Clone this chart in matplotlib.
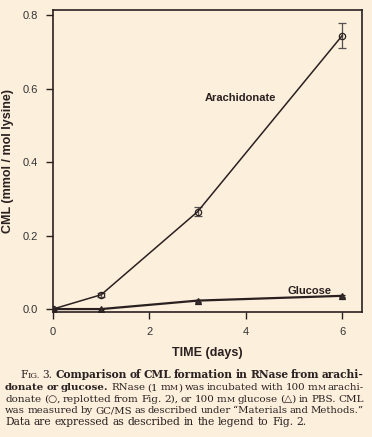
"""Fig. 3: CML formation in RNase from arachidonate or glucose."""

import matplotlib
matplotlib.use("Agg")
import matplotlib.pyplot as plt

# Data
days = [0, 1, 3, 6]
arachidonate = [0.0, 0.039, 0.265, 0.744]
arachidonate_err = [0.003, 0.005, 0.012, 0.033]
glucose = [0.0, 0.0, 0.023, 0.036]
glucose_err = [0.0, 0.0, 0.003, 0.003]

x_ticks = [0, 2, 4, 6]
y_ticks = [0.0, 0.2, 0.4, 0.6, 0.8]

BG = "#fcefdc"
INK = "#2a2020"

plt.rcParams["font.family"] = ["Liberation Sans", "DejaVu Sans"]

W, H = 372, 437
fig = plt.figure(figsize=(W / 100, H / 100), dpi=100, facecolor=BG)
ax = fig.add_axes([53 / W, 1 - 312 / H, 309 / W, 302 / H], facecolor=BG)

ax.errorbar(days, arachidonate, yerr=arachidonate_err, color=INK, lw=1.1,
            marker="o", ms=4.5, mfc="none", mec=INK, mew=0.9,
            ecolor="#555050", elinewidth=0.9, capsize=3, capthick=0.9)
ax.errorbar(days, glucose, yerr=glucose_err, color=INK, lw=1.6,
            marker="^", ms=4, mfc="#3a3030", mec=INK, mew=0.9,
            ecolor=INK, elinewidth=0.8, capsize=2)

ax.text(3.88, 0.573, "Arachidonate", fontsize=8, fontweight="bold",
        color=INK, ha="center", va="center")
ax.text(5.33, 0.049, "Glucose", fontsize=8, fontweight="bold",
        color=INK, ha="center", va="center")

ax.set_xlim(0, 6.41)
ax.set_ylim(-0.008, 0.8136)
ax.set_xticks(x_ticks)
ax.set_yticks(y_ticks)
ax.set_xticklabels([str(v) for v in x_ticks])
ax.set_yticklabels([f"{v:.1f}" for v in y_ticks])
ax.tick_params(direction="out", length=5, width=1, color=INK,
               labelsize=8, labelcolor="#333333", pad=6)
for s in ax.spines.values():
    s.set_color(INK)
    s.set_linewidth(1.2)

ax.set_xlabel("TIME (days)", fontsize=9, fontweight="bold", color=INK)
ax.set_ylabel("CML (mmol / mol lysine)", fontsize=9, fontweight="bold", color=INK)
ax.xaxis.set_label_coords(0.5, -(353 - 312) / 302)
ax.yaxis.set_label_coords(-(53 - 8) / 309, 0.5)
ax.xaxis.label.set_va("center")
ax.yaxis.label.set_va("center")

# Caption, set word by word so lines can be justified
CAP = 7.7
SMALL_RATIO = 0.77
MIN_GAP = 2.6
caption_lines = [
    [[("F", "n"), ("IG.", "s")], [("3.", "n")], [("Comparison", "b")], [("of", "b")],
     [("CML", "b")], [("formation", "b")], [("in", "b")], [("RNase", "b")],
     [("from", "b")], [("arachi-", "b")]],
    [[("donate", "b")], [("or", "b")], [("glucose.", "b")], [("RNase", "n")],
     [("(1", "n")], [("m", "n"), ("M", "s"), (")", "n")], [("was", "n")],
     [("incubated", "n")], [("with", "n")], [("100", "n")], [("m", "n"), ("M", "s")],
     [("arachi-", "n")]],
    [[("donate", "n")], [("(\u25cb,", "n")], [("replotted", "n")], [("from", "n")],
     [("Fig.", "n")], [("2),", "n")], [("or", "n")], [("100", "n")],
     [("m", "n"), ("M", "s")], [("glucose", "n")], [("(\u25b3)", "n")], [("in", "n")],
     [("PBS.", "n")], [("CML", "n")]],
    [[("was", "n")], [("measured", "n")], [("by", "n")], [("GC/MS", "n")], [("as", "n")],
     [("described", "n")], [("under", "n")], [("\u201cMaterials", "n")], [("and", "n")],
     [("Methods.\u201d", "n")]],
    [[("Data", "n")], [("are", "n")], [("expressed", "n")], [("as", "n")],
     [("described", "n")], [("in", "n")], [("the", "n")], [("legend", "n")],
     [("to", "n")], [("Fig.", "n")], [("2.", "n")]],
]
line_starts = [20, 5, 5, 5, 5]
line_end = 364
baselines = [378.5, 390.2, 401.8, 413.4, 425.0]
justify = [True, True, True, True, False]

renderer = fig.canvas.get_renderer()


def make_text(x, y, s, style, size):
    return fig.text(x / W, 1 - y / H, s,
                    fontsize=size * SMALL_RATIO if style == "s" else size,
                    fontweight="bold" if style == "b" else "normal",
                    family=["DejaVu Serif", "DejaVu Sans"], color="#2a2222",
                    va="baseline", ha="left")


def piece_width(s, style, size):
    t = make_text(0, 0, s, style, size)
    w = t.get_window_extent(renderer).width
    t.remove()
    return w


for words, x0, y, just in zip(caption_lines, line_starts, baselines, justify):
    size = CAP
    widths = [[piece_width(s, st, size) for s, st in word] for word in words]
    total = sum(sum(w) for w in widths)
    avail = line_end - x0 - MIN_GAP * (len(words) - 1)
    if just and total > avail:
        size = CAP * avail / total
        widths = [[piece_width(s, st, size) for s, st in word] for word in words]
        total = sum(sum(w) for w in widths)
    if just:
        gap = (line_end - x0 - total) / (len(words) - 1)
    else:
        gap = piece_width("a a", "n", size) - piece_width("aa", "n", size)
    x = x0
    for word, ws in zip(words, widths):
        for (s, st), w in zip(word, ws):
            make_text(x, y, s, st, size)
            x += w
        x += gap

fig.savefig("out.png", dpi=100, facecolor=BG)
